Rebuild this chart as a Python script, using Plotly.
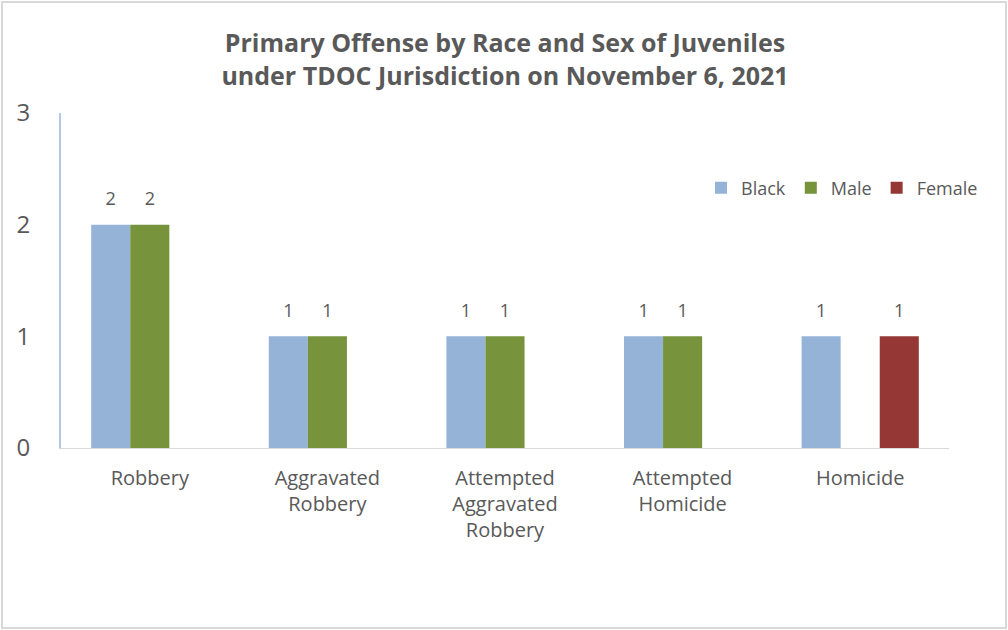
import plotly.graph_objects as go

categories = ["Robbery", "Aggravated<br>Robbery", "Attempted<br>Aggravated<br>Robbery",
              "Attempted<br>Homicide", "Homicide"]
black = [2, 1, 1, 1, 1]
male = [2, 1, 1, 1, None]
female = [None, None, None, None, 1]

GRAY = "#595959"
FONT = "Open Sans, Arial"

series = [("Black", black, "#95b3d7"), ("Male", male, "#77933c"), ("Female", female, "#953735")]

fig = go.Figure()
for name, vals, col in series:
    fig.add_trace(go.Bar(
        x=categories, y=vals, name=name, marker=dict(color=col, line=dict(width=0)),
        offsetgroup=name,
    ))
for name, vals, col in series:
    fig.add_trace(go.Scatter(
        x=categories, y=vals, mode="markers+text", showlegend=False, hoverinfo="skip",
        offsetgroup=name, marker=dict(size=22, opacity=0, color=col),
        text=[("%d" % v) if v is not None else "" for v in vals],
        textposition="top center", cliponaxis=False,
        textfont=dict(size=18, color=GRAY, family=FONT),
    ))

W, H = 1008, 630
L, R, T, B = 61, 59, 113, 182
pw, ph = W - L - R, H - T - B

fig.update_layout(
    width=W, height=H, margin=dict(l=L, r=R, t=T, b=B),
    paper_bgcolor="white", plot_bgcolor="white",
    barmode="group", bargap=0.34, bargroupgap=0,
    scattermode="group", scattergap=0.34,
    font=dict(family=FONT, color=GRAY),
    title=dict(text="<b>Primary Offense by Race and Sex of Juveniles<br>under TDOC Jurisdiction on November 6, 2021</b>",
               x=0.5, xanchor="center", xref="paper", y=(H - 52) / H, yanchor="middle",
               font=dict(size=25, color=GRAY, family=FONT)),
    legend=dict(orientation="h", x=(701 - L) / pw, xanchor="left", y=(448 - 188) / ph, yanchor="middle",
                font=dict(size=18, color=GRAY, family=FONT), bgcolor="rgba(0,0,0,0)",
                itemwidth=30, tracegroupgap=0, traceorder="normal"),
    showlegend=True,
    yaxis=dict(range=[0, 3], tickvals=[0, 1, 2, 3], showgrid=False, zeroline=False,
               showline=True, linecolor="#b4c7e7", linewidth=2,
               ticks="", ticklabelstandoff=24,
               tickfont=dict(size=24, color=GRAY, family=FONT)),
    xaxis=dict(showgrid=False, showline=True, linecolor="#d9d9d9", linewidth=1, ticks="",
               ticklabelstandoff=12, tickangle=0,
               tickfont=dict(size=20, color=GRAY, family=FONT)),
    shapes=[dict(type="rect", xref="paper", yref="paper",
                 x0=(2 - L) / pw, x1=(1006 - L) / pw,
                 y0=(448 - 628) / ph, y1=(448 - 2) / ph,
                 line=dict(color="#d9d9d9", width=2), fillcolor="rgba(0,0,0,0)", layer="below")],
)

fig.write_html("out.html", config={"displayModeBar": False},
               post_script="document.body.style.margin='0';document.body.style.overflow='hidden';")
